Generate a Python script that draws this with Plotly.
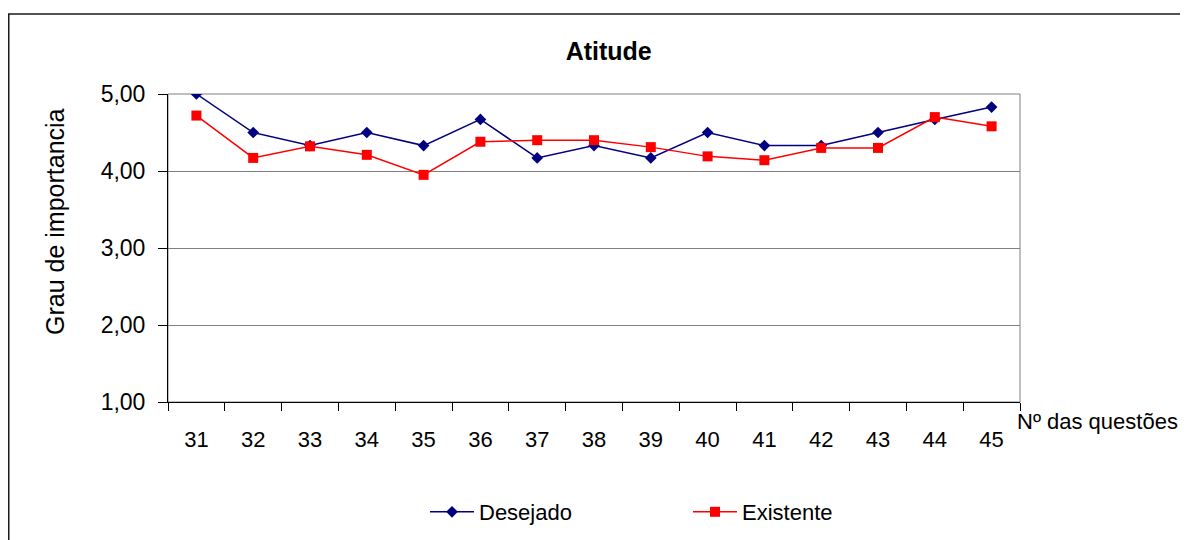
import plotly.graph_objects as go

questoes = ["31", "32", "33", "34", "35", "36", "37", "38", "39", "40", "41", "42", "43", "44", "45"]
desejado = [5.00, 4.50, 4.33, 4.50, 4.33, 4.67, 4.17, 4.33, 4.17, 4.50, 4.33, 4.33, 4.50, 4.67, 4.83]
existente = [4.72, 4.17, 4.32, 4.21, 3.95, 4.38, 4.40, 4.40, 4.31, 4.19, 4.14, 4.30, 4.30, 4.70, 4.58]
y_ticks = [1, 2, 3, 4, 5]

FONT = "Liberation Sans, Arial, sans-serif"
W, H = 1188, 540
# the page shows the figure with an 8px body margin; coordinates below are figure pixels
L, R, T, B = 160, 176, 86, 146

fig = go.Figure()
fig.add_trace(go.Scatter(
    x=questoes, y=desejado, name="Desejado", mode="lines+markers",
    line=dict(color="#000080", width=1.5),
    marker=dict(symbol="diamond", size=9, color="#000080"),
    legend="legend",
))
fig.add_trace(go.Scatter(
    x=questoes, y=existente, name="Existente", mode="lines+markers",
    line=dict(color="#FF0000", width=1.5),
    marker=dict(symbol="square", size=10, color="#FF0000"),
    legend="legend2",
))

pw = W - L - R
ph = H - T - B

fig.update_layout(
    width=W, height=H,
    margin=dict(l=L, r=R, t=T, b=B, pad=0),
    paper_bgcolor="white", plot_bgcolor="white",
    separators=",.",
    font=dict(family=FONT, size=22, color="black"),
    title=dict(text="<b>Atitude</b>", x=600.7 / W, xanchor="center",
               xref="container", yref="container", y=1 - 43 / H, yanchor="middle",
               font=dict(family=FONT, size=25, color="black")),
    xaxis=dict(
        type="category", showgrid=False, zeroline=False,
        showline=True, linecolor="black", linewidth=1,
        ticks="outside", ticklen=8, tickcolor="black", tickwidth=1,
        tickson="boundaries", ticklabelstandoff=18,
        tickfont=dict(family=FONT, size=22, color="black"),
        range=[-0.5, len(questoes) - 0.5],
    ),
    yaxis=dict(
        range=[1, 5], tickvals=y_ticks, tickformat=".2f",
        showgrid=True, gridcolor="#808080", gridwidth=1, zeroline=False,
        showline=True, linecolor="black", linewidth=1,
        ticks="outside", ticklen=9, tickcolor="black", tickwidth=1,
        ticklabelstandoff=8,
        tickfont=dict(family=FONT, size=23, color="black"),
    ),
    showlegend=True,
    legend=dict(orientation="h", xref="container", yref="container",
                x=(441 - 24) / W, xanchor="left", y=1 - 504 / H, yanchor="middle",
                itemwidth=44,
                font=dict(family=FONT, size=22, color="black"),
                bgcolor="rgba(0,0,0,0)", borderwidth=0),
    legend2=dict(orientation="h", xref="container", yref="container",
                 x=(704 - 24) / W, xanchor="left", y=1 - 504 / H, yanchor="middle",
                 itemwidth=44,
                 font=dict(family=FONT, size=22, color="black"),
                 bgcolor="rgba(0,0,0,0)", borderwidth=0),
)

# plot area frame (grey) and outer chart border
fig.add_shape(type="rect", xref="paper", yref="paper", x0=0, y0=0, x1=1, y1=1,
              line=dict(color="#808080", width=1), layer="below")
fig.add_shape(type="rect", xref="paper", yref="paper",
              x0=(0.75 - L) / pw, y0=-2, x1=3, y1=(H - B - 6) / ph,
              line=dict(color="#1a1a1a", width=1.5), layer="above")

# y axis title (placed above centre, as in the original)
fig.add_annotation(text="Grau de importancia", xref="paper", yref="paper",
                   x=(47 - L) / pw, xanchor="center", y=(H - B - 214) / ph, yanchor="middle",
                   textangle=-90, showarrow=False,
                   font=dict(family=FONT, size=25, color="black"))

fig.add_annotation(text="Nº das questões", xref="paper", yref="paper",
                   x=(1007 - L) / pw, xanchor="left", y=-(413 - (H - B)) / ph,
                   yanchor="middle", showarrow=False,
                   font=dict(family=FONT, size=22, color="black"))

fig.write_html("out.html")
